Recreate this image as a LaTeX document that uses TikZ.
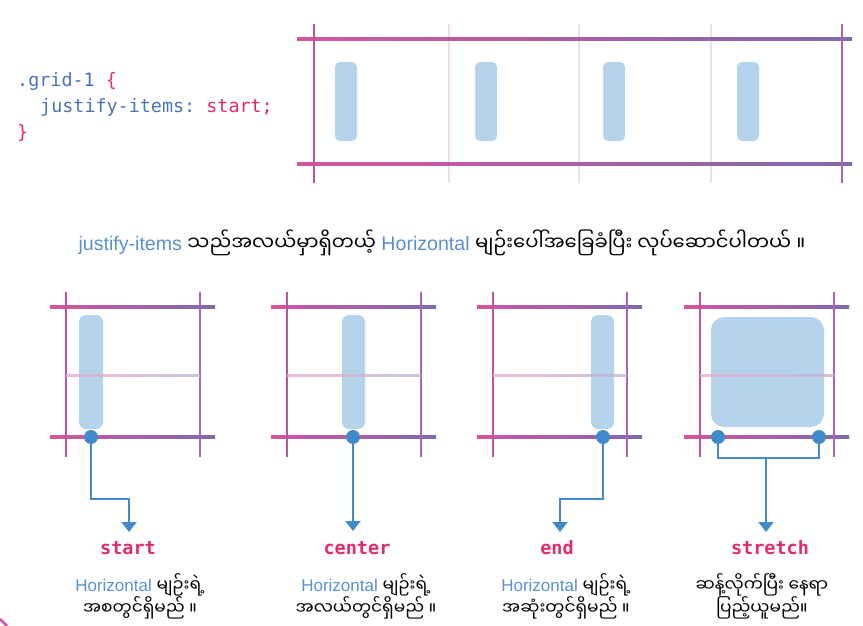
\documentclass[tikz,border=0pt]{standalone}
\usepackage{fontspec}
\setmainfont{Liberation Sans}
\setmonofont{DejaVu Sans Mono}
\newfontfamily\mmfont[Script=Myanmar]{Noto Sans Myanmar UI}
\usetikzlibrary{arrows.meta}

\definecolor{gridpink}{HTML}{D4559F}
\definecolor{gridviolet}{HTML}{7F6AA9}
\definecolor{vleftcol}{HTML}{C0519F}
\definecolor{vrightcol}{HTML}{A865B0}
\definecolor{faintcol}{HTML}{F0DCEF}
\definecolor{itemcol}{HTML}{B5D4EB}
\definecolor{linkblue}{HTML}{428BCA}
\definecolor{codeblue}{HTML}{4B74B8}
\definecolor{codepink}{HTML}{E32A6A}
\definecolor{txtblue}{HTML}{5B8FD0}

\newcommand{\mm}[1]{{\mmfont #1}}
\newcommand{\hz}{\textcolor{txtblue}{Horizontal}}

\tikzset{
  hline/.style={left color=gridpink, right color=gridviolet},
  midline/.style={left color=gridpink!50, right color=gridviolet!50, opacity=0.8},
  vline/.style={line width=2.4pt},
  faint/.style={faintcol, line width=2pt},
  item/.style={fill=itemcol, rounded corners=5pt},
  dot/.style={circle, fill=linkblue, minimum size=14pt, inner sep=0pt},
  link/.style={linkblue, line width=2pt},
  pointer/.style={link, -{Triangle[width=15pt,length=10pt]}},
  code/.style={font=\fontsize{18.4}{20}\ttfamily, text=codeblue, anchor=base west, inner sep=0pt},
  valname/.style={font=\fontsize{18.5}{20}\ttfamily\bfseries, text=codepink, anchor=base, inner sep=0pt},
  desc/.style={font=\fontsize{17}{20}\selectfont, anchor=base, inner sep=0pt},
}

\begin{document}
\begin{tikzpicture}[x=1pt,y=-1pt]
  \useasboundingbox (0,0) rectangle (863,626);

  % css snippet
  \node[code] (rule) at (17,87) {.grid-1 \textcolor{codepink}{\{}};
  \node[code] (decl) at (40,113) {justify-items: \textcolor{codepink}{start;}};
  \node[code] (close) at (17,139) {\textcolor{codepink}{\}}};

  % top grid with four columns
  \foreach \x in {449,579,711}
    \draw[faint] (\x,24) -- (\x,183);
  \foreach \y in {39,164}
    \shade[hline] (297,{\y-1.2}) rectangle (852,{\y+1.2});
  \draw[vline, vleftcol] (314,24) -- (314,183);
  \draw[vline, vrightcol] (842,24) -- (842,183);
  \foreach \x in {335,475,603,737}
    \fill[item] (\x,62) rectangle ++(22,79);

  % caption
  \node[desc, font=\fontsize{19.6}{22}\selectfont] (caption) at (442,250) {\textcolor{txtblue}{justify-items} \mm{သည်အလယ်မှာရှိတယ့်} \hz{} \mm{မျဉ်းပေါ်အခြေခံပြီး လုပ်ဆောင်ပါတယ် ။}};

  % four small grids
  \foreach \L in {66,287,493,700} {
    \shade[hline] ({\L-16},305.8) rectangle ({\L+149},308.2);
    \shade[hline] ({\L-16},435.8) rectangle ({\L+149},438.2);
    \draw[vline, vleftcol] (\L,292) -- (\L,457);
    \draw[vline, vrightcol] ({\L+134},292) -- ({\L+134},457);
  }
  \fill[item, rounded corners=7pt] (79,315) rectangle (103,429);
  \fill[item, rounded corners=7pt] (342,315) rectangle (365,429);
  \fill[item, rounded corners=7pt] (591,315) rectangle (614,429);
  \fill[item, rounded corners=13pt] (711,317) rectangle (824,427);
  \foreach \L in {66,287,493,700}
    \shade[midline] (\L,374) rectangle ({\L+134},376);

  % alignment points
  \node[dot] (dStart) at (91,437) {};
  \node[dot] (dCenter) at (353,437) {};
  \node[dot] (dEnd) at (603,437) {};
  \node[dot] (dLeft) at (718,437) {};
  \node[dot] (dRight) at (819,437) {};

  \coordinate (bStart) at (91,499);
  \coordinate (tStart) at (129,532);
  \coordinate (tCenter) at (353,531);
  \coordinate (bEnd) at (603,499);
  \coordinate (tEnd) at (560,532);
  \coordinate (jLeft) at (718,458);
  \coordinate (jMid) at (766,458);
  \coordinate (tStretch) at (766,532);

  \draw[pointer] (dStart) -- (bStart) -| (tStart);
  \draw[pointer] (dCenter) -- (tCenter);
  \draw[pointer] (dEnd) -- (bEnd) -| (tEnd);
  \draw[link] (dLeft) -- (jLeft) -| (dRight);
  \draw[pointer] (jMid) -- (tStretch);

  % values
  \node[valname] (vStart) at (128,554) {start};
  \node[valname] (vCenter) at (357,554) {center};
  \node[valname] (vEnd) at (557,554) {end};
  \node[valname] (vStretch) at (770,554) {stretch};

  % descriptions
  \node[desc] (sA) at (140,591) {\hz{} \mm{မျဉ်းရဲ့}};
  \node[desc] (sB) at (140,614) {\mm{အစတွင်ရှိမည် ။}};
  \node[desc] (cA) at (366,591) {\hz{} \mm{မျဉ်းရဲ့}};
  \node[desc] (cB) at (366,614) {\mm{အလယ်တွင်ရှိမည် ။}};
  \node[desc] (eA) at (566,591) {\hz{} \mm{မျဉ်းရဲ့}};
  \node[desc] (eB) at (566,614) {\mm{အဆုံးတွင်ရှိမည် ။}};
  \node[desc] (xA) at (762,591) {\mm{ဆန့်လိုက်ပြီး နေရာ}};
  \node[desc] (xB) at (762,614) {\mm{ပြည့်ယူမည်။}};

  % corner piece
  \draw[gridpink, line width=2.5pt] (0,619) -- (7,626);
\end{tikzpicture}
\end{document}
